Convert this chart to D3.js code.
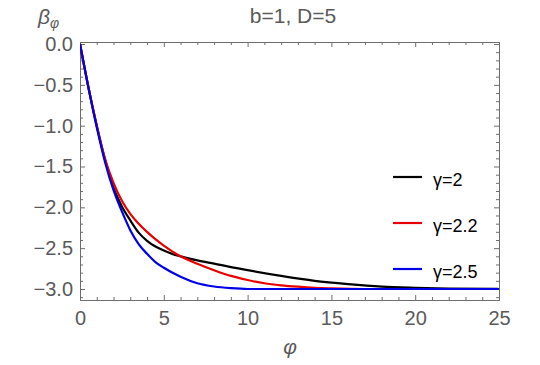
<!DOCTYPE html>
<html>
<head>
<meta charset="utf-8">
<style>
  body { margin: 0; background: #fff; }
  svg text { font-family: "Liberation Sans", Arial, sans-serif; fill: #5a5a5a; }
  .frame path.domain { stroke: #6e6e6e; stroke-width: 1px; }
  .frame .tick line { stroke: #6e6e6e; stroke-width: 1px; }
  .frame .tick text { font-size: 20px; fill: #5a5a5a; font-family: "Liberation Sans", Arial, sans-serif; }
  .curve { fill: none; stroke-width: 2.2px; }
</style>
</head>
<body>
<script src="https://d3js.org/d3.v7.min.js"></script>
<script>
// values
var phiBlack = [0, 0.5, 1, 1.5, 2, 2.5, 3, 3.5, 4, 4.5, 5, 5.5, 6, 7, 8, 10, 12, 14, 16, 18, 20, 22, 25];
var betaBlack = [0, -0.53, -1.0, -1.42, -1.76, -1.99, -2.16, -2.31, -2.41, -2.48, -2.53, -2.57, -2.6, -2.65, -2.69, -2.77, -2.84, -2.9, -2.94, -2.97, -2.985, -2.995, -3.0];

var phiRed = [0, 0.5, 1, 1.5, 2, 2.5, 3, 3.5, 4, 4.5, 5, 5.5, 6, 7, 8, 9, 10, 11, 12, 13, 14, 15, 17, 25];
var betaRed = [0, -0.53, -1.0, -1.41, -1.7, -1.92, -2.08, -2.2, -2.3, -2.39, -2.47, -2.54, -2.6, -2.69, -2.77, -2.84, -2.89, -2.93, -2.955, -2.972, -2.985, -2.992, -3.0, -3.0];

var phiBlue = [0, 0.5, 1, 1.5, 2, 2.5, 3, 3.5, 4, 4.5, 5, 6, 7, 8, 9, 10, 25];
var betaBlue = [0, -0.53, -1.02, -1.45, -1.79, -2.05, -2.28, -2.45, -2.57, -2.67, -2.74, -2.85, -2.93, -2.97, -2.99, -3.0, -3.0];

var seriesNames = ["\u03b3=2", "\u03b3=2.2", "\u03b3=2.5"];
var seriesColors = ["#000000", "#e80000", "#0000e8"];

var xTicks = [0, 5, 10, 15, 20, 25];
var yTicks = [0, -0.5, -1, -1.5, -2, -2.5, -3];

var W = 540, H = 365;
var plot = { left: 80, right: 499, top: 42, bottom: 300 };

var svg = d3.select("body").append("svg")
  .attr("width", W).attr("height", H);

var x = d3.scaleLinear().domain([0, 25]).range([plot.left, plot.right]);
var y = d3.scaleLinear().domain([-3.135, 0.025]).range([plot.bottom, plot.top]);

var xMinor = d3.range(0, 25.01, 1).filter(function (d) { return d % 5 !== 0; });
var yMinor = d3.range(-31, 1, 1).map(function (d) { return d / 10; })
  .filter(function (d) { return Math.abs(Math.round(d * 10)) % 5 !== 0; });

function fmtY(d) { return d3.format(".1f")(d).replace("-", "\u2212"); }

// frame: major ticks
svg.append("g").attr("class", "frame")
  .attr("transform", "translate(0," + plot.bottom + ")")
  .call(d3.axisBottom(x).tickValues(xTicks).tickSizeInner(-5).tickSizeOuter(0).tickPadding(11));
svg.append("g").attr("class", "frame")
  .attr("transform", "translate(0," + plot.top + ")")
  .call(d3.axisTop(x).tickValues(xTicks).tickSizeInner(-5).tickSizeOuter(0).tickFormat(""));
svg.append("g").attr("class", "frame")
  .attr("transform", "translate(" + plot.left + ",0)")
  .call(d3.axisLeft(y).tickValues(yTicks).tickSizeInner(-5).tickSizeOuter(0).tickPadding(7).tickFormat(fmtY));
svg.append("g").attr("class", "frame")
  .attr("transform", "translate(" + plot.right + ",0)")
  .call(d3.axisRight(y).tickValues(yTicks).tickSizeInner(-5).tickSizeOuter(0).tickFormat(""));

// frame: minor ticks
svg.append("g").attr("class", "frame")
  .attr("transform", "translate(0," + plot.bottom + ")")
  .call(d3.axisBottom(x).tickValues(xMinor).tickSizeInner(-3).tickSizeOuter(0).tickFormat(""));
svg.append("g").attr("class", "frame")
  .attr("transform", "translate(0," + plot.top + ")")
  .call(d3.axisTop(x).tickValues(xMinor).tickSizeInner(-3).tickSizeOuter(0).tickFormat(""));
svg.append("g").attr("class", "frame")
  .attr("transform", "translate(" + plot.left + ",0)")
  .call(d3.axisLeft(y).tickValues(yMinor).tickSizeInner(-3).tickSizeOuter(0).tickFormat(""));
svg.append("g").attr("class", "frame")
  .attr("transform", "translate(" + plot.right + ",0)")
  .call(d3.axisRight(y).tickValues(yMinor).tickSizeInner(-3).tickSizeOuter(0).tickFormat(""));

// curves
svg.append("clipPath").attr("id", "clip")
  .append("rect")
    .attr("x", plot.left).attr("y", plot.top)
    .attr("width", plot.right - plot.left).attr("height", plot.bottom - plot.top);

var line = d3.line()
  .x(function (d) { return x(d[0]); })
  .y(function (d) { return y(d[1]); })
  .curve(d3.curveMonotoneX);

var series = [
  d3.zip(phiBlack, betaBlack),
  d3.zip(phiRed, betaRed),
  d3.zip(phiBlue, betaBlue)
];

series.forEach(function (s, i) {
  svg.append("path")
    .attr("class", "curve")
    .attr("clip-path", "url(#clip)")
    .attr("d", line(s))
    .style("stroke", seriesColors[i]);
});

// legend
var legend = svg.append("g").attr("transform", "translate(393,177)");
seriesNames.forEach(function (name, i) {
  var g = legend.append("g").attr("transform", "translate(0," + (i * 46) + ")");
  g.append("line")
    .attr("x1", 0).attr("x2", 29).attr("y1", 0).attr("y2", 0)
    .style("stroke", seriesColors[i]).style("stroke-width", 2.2);
  g.append("text")
    .attr("x", 40).attr("y", 8.5)
    .style("font-size", "18px").style("fill", "#000")
    .text(name);
});

// title and axis labels
svg.append("text")
  .attr("x", 293).attr("y", 23)
  .attr("text-anchor", "middle")
  .style("font-size", "21px")
  .text("b=1, D=5");

var yl = svg.append("text")
  .attr("x", 38).attr("y", 24)
  .style("font-size", "21px")
  .style("font-style", "italic");
yl.append("tspan").text("\u03b2");
yl.append("tspan").attr("dy", 4).style("font-size", "14px").text("\u03c6");

svg.append("text")
  .attr("x", 290).attr("y", 354)
  .attr("text-anchor", "middle")
  .style("font-size", "21px")
  .style("font-style", "italic")
  .text("\u03c6");
</script>
</body>
</html>
